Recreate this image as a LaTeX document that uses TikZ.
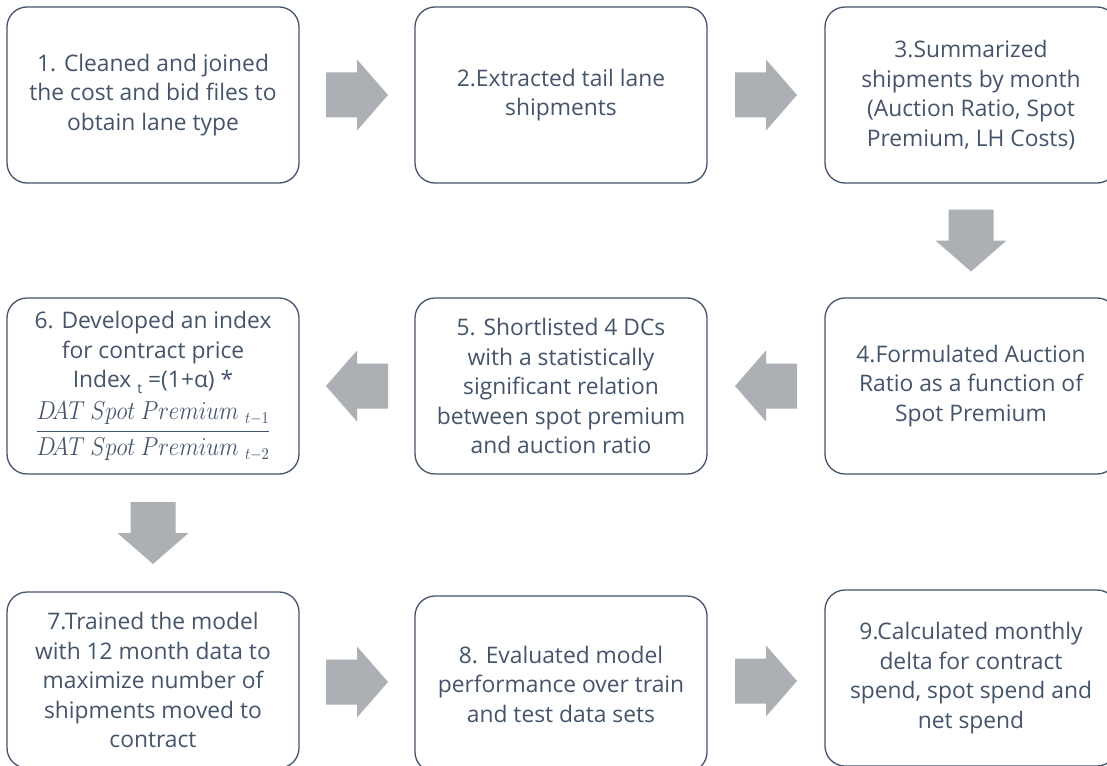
\documentclass[tikz,border=0pt]{standalone}
\usepackage{fontspec}
\setmainfont{Open Sans}
\usetikzlibrary{calc}
\definecolor{slate}{HTML}{44546A}
\definecolor{arrowgray}{HTML}{ACAFB4}
\tikzset{
  stepbox/.style={draw=slate, line width=1.3pt, rounded corners=20pt,
    minimum width=292pt, minimum height=176pt, align=center, text=slate,
    font=\fontsize{22.8}{29.5}\selectfont, inner sep=0pt},
  blockarrow/.style={fill=arrowgray, draw=none}
}
% block arrow centred between two anchors, tip pointing along the given angle
\newcommand\flowarrow[3]{%
  \fill[blockarrow, shift={($(#1)!0.5!(#2)$)}, rotate=#3]
    (-31,-22.5) -- (0,-22.5) -- (0,-35.5) -- (31,0) -- (0,35.5) -- (0,22.5) -- (-31,22.5) -- cycle;}
\newcommand\datsp{D\!AT\ Spot\ Premium}
\begin{document}
\begin{tikzpicture}[x=1pt, y=-1pt]
\useasboundingbox (0,0) rectangle (1107,765);
\fill[white] (0,0) rectangle (1107,765);

\node[stepbox] (s1) at (153,95) {1. Cleaned and joined\\the cost and bid files to\\obtain lane type};
\node[stepbox] (s2) at (561,95) {2.Extracted tail lane\\shipments};
\node[stepbox] (s3) at (971,95) {3.Summarized\\shipments by month\\(Auction Ratio, Spot\\Premium, LH Costs)};

\node[stepbox] (s4) at (971,386) {4.Formulated Auction\\Ratio as a function of\\Spot Premium};
\node[stepbox] (s5) at (561,386) {5. Shortlisted 4 DCs\\with a statistically\\significant relation\\between spot premium\\and auction ratio};
\node[stepbox] (s6) at (153,386) {6. Developed an index\\for contract price\\Index \raisebox{-6pt}{\fontsize{14}{14}\selectfont t} =(1+α) *\\[7pt]
  {\fontsize{16}{18}\selectfont\scalebox{1.32}[1.5]{$\displaystyle\frac{\datsp\;{}_{t-1}}{\datsp\;{}_{t-2}}$}}};

\node[stepbox] (s7) at (153,680) {7.Trained the model\\with 12 month data to\\maximize number of\\shipments moved to\\contract};
\node[stepbox] (s8) at (561,684) {8. Evaluated model\\performance over train\\and test data sets};
\node[stepbox] (s9) at (971,678) {9.Calculated monthly\\delta for contract\\spend, spot spend and\\net spend};

\flowarrow{s1.east}{s2.west}{0}
\flowarrow{s2.east}{s3.west}{0}
\flowarrow{s3.south}{s4.north}{-90}
\flowarrow{s4.west}{s5.east}{180}
\flowarrow{s5.west}{s6.east}{180}
\flowarrow{s6.south}{s7.north}{-90}
\flowarrow{s7.east}{s8.west}{0}
\flowarrow{s8.east}{s9.west}{0}
\end{tikzpicture}
\end{document}
